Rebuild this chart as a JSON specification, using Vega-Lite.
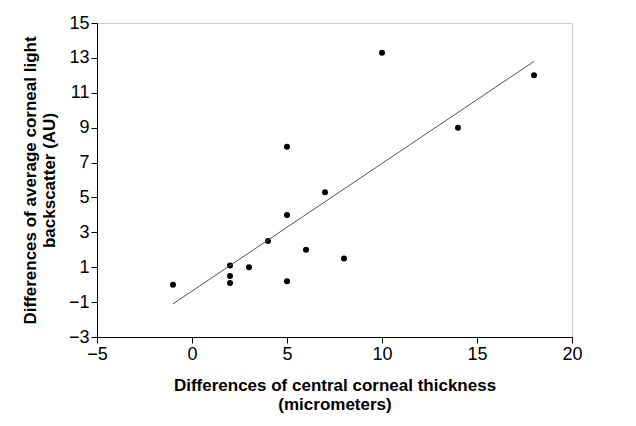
{"$schema":"https://vega.github.io/schema/vega-lite/v6.json","width":475,"height":314,"padding":{"left":21,"top":14,"right":8,"bottom":5},"config":{"view":{"stroke":"#ccc"}},
"encoding":{"x":{"field":"x","type":"quantitative","scale":{"domain":[-5,20],"nice":false},"axis":{"values":[-5,0,5,10,15,20],"grid":false,"domainColor":"#000","tickColor":"#000","tickSize":6,"labelColor":"#000","labelFont":"Liberation Sans","labelFontSize":18,"titleFont":"Liberation Sans","titleFontSize":17,"titleFontWeight":"bold","titleColor":"#000","labelOverlap":false,"labelFlush":false,"title":["Differences of central corneal thickness","(micrometers)"],"titlePadding":14}},
"y":{"field":"y","type":"quantitative","scale":{"domain":[-3,15],"nice":false},"axis":{"values":[-3,-1,1,3,5,7,9,11,13,15],"grid":false,"domainColor":"#000","tickColor":"#000","tickSize":6,"labelColor":"#000","labelFont":"Liberation Sans","labelFontSize":18,"titleFont":"Liberation Sans","titleFontSize":17,"titleFontWeight":"bold","titleColor":"#000","labelOverlap":false,"labelFlush":false,"title":["Differences of average corneal light","backscatter (AU)"],"titlePadding":10}}},
"layer":[
{"data":{"values":[{"x":-1,"y":0},{"x":2,"y":1.1},{"x":2,"y":0.5},{"x":2,"y":0.1},{"x":3,"y":1},{"x":4,"y":2.5},{"x":5,"y":7.9},{"x":5,"y":4},{"x":5,"y":0.2},{"x":6,"y":2},{"x":7,"y":5.3},{"x":8,"y":1.5},{"x":10,"y":13.3},{"x":14,"y":9},{"x":18,"y":12}]},
"mark":{"type":"circle","color":"#000","opacity":1,"size":36}},
{"data":{"values":[{"x":-1,"y":-1.1},{"x":18,"y":12.8}]},"mark":{"type":"line","color":"#555","strokeWidth":1}}
]}
